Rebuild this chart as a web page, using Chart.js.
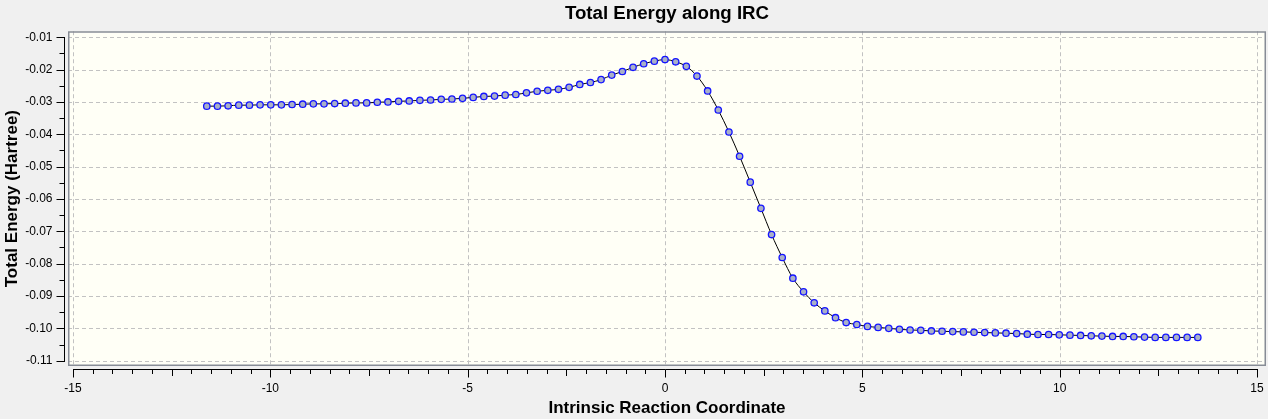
<!DOCTYPE html>
<html>
<head>
<meta charset="utf-8">
<title>Total Energy along IRC</title>
<script src="https://cdn.jsdelivr.net/npm/chart.js@4.4.1/dist/chart.umd.min.js"></script>
<style>
  html, body { margin: 0; padding: 0; background: #f0f0f0; }
  #wrap { position: relative; width: 1268px; height: 419px; }
</style>
</head>
<body>
<div id="wrap"><canvas id="irc"></canvas></div>
<script>
// ---- Data ----
const ircCoord = [
  -11.61, -11.34, -11.07, -10.80, -10.53, -10.26, -9.99, -9.72, -9.45, -9.18,
  -8.91, -8.64, -8.37, -8.10, -7.83, -7.56, -7.29, -7.02, -6.75, -6.48,
  -6.21, -5.94, -5.67, -5.40, -5.13, -4.86, -4.59, -4.32, -4.05, -3.78,
  -3.51, -3.24, -2.97, -2.70, -2.43, -2.16, -1.89, -1.62, -1.35, -1.08,
  -0.81, -0.54, -0.27, 0.00, 0.27, 0.54, 0.81, 1.08, 1.35, 1.62,
  1.89, 2.16, 2.43, 2.70, 2.97, 3.24, 3.51, 3.78, 4.05, 4.32,
  4.59, 4.86, 5.13, 5.40, 5.67, 5.94, 6.21, 6.48, 6.75, 7.02,
  7.29, 7.56, 7.83, 8.10, 8.37, 8.64, 8.91, 9.18, 9.45, 9.72,
  9.99, 10.26, 10.53, 10.80, 11.07, 11.34, 11.61, 11.88, 12.15, 12.42,
  12.69, 12.96, 13.23, 13.50
];

const totalEnergy = [
  -0.0313, -0.0313, -0.0312, -0.0310, -0.0310, -0.0309, -0.0309, -0.0309, -0.0308, -0.0307,
  -0.0306, -0.0306, -0.0305, -0.0304, -0.0303, -0.0303, -0.0301, -0.0300, -0.0298, -0.0297,
  -0.0295, -0.0294, -0.0292, -0.0291, -0.0289, -0.0286, -0.0283, -0.0282, -0.0279, -0.0277,
  -0.0272, -0.0267, -0.0264, -0.0261, -0.0255, -0.0246, -0.0240, -0.0231, -0.0217, -0.0206,
  -0.0193, -0.0182, -0.0174, -0.0169, -0.0176, -0.0190, -0.0220, -0.0266, -0.0325, -0.0393,
  -0.0468, -0.0548, -0.0629, -0.0710, -0.0781, -0.0845, -0.0887, -0.0921, -0.0946, -0.0967,
  -0.0982, -0.0988, -0.0994, -0.0997, -0.1000, -0.1003, -0.1005, -0.1006, -0.1008, -0.1009,
  -0.1010, -0.1011, -0.1012, -0.1013, -0.1014, -0.1015, -0.1016, -0.1018, -0.1019, -0.1019,
  -0.1020, -0.1021, -0.1022, -0.1023, -0.1024, -0.1025, -0.1025, -0.1026, -0.1027, -0.1028,
  -0.1028, -0.1028, -0.1028, -0.1028
];

const xTickValues = [-15, -10, -5, 0, 5, 10, 15];
const xTickLabels = ['-15', '-10', '-5', '0', '5', '10', '15'];
const yTickValues = [-0.11, -0.10, -0.09, -0.08, -0.07, -0.06, -0.05, -0.04, -0.03, -0.02, -0.01];
const yTickLabels = ['-0.11', '-0.10', '-0.09', '-0.08', '-0.07', '-0.06', '-0.05', '-0.04', '-0.03', '-0.02', '-0.01'];

const FONT = "'Liberation Sans', Arial, sans-serif";

// ---- Plot frame, dashed grid and the detached axis lines with minor ticks ----
const framePlugin = {
  id: 'frame',
  beforeDraw(chart) {
    const { ctx, chartArea: a, scales: { x, y } } = chart;
    ctx.save();

    ctx.fillStyle = '#fffff6';
    ctx.fillRect(a.left, a.top, a.right - a.left, a.bottom - a.top);

    // grid
    ctx.strokeStyle = '#c2c2c2';
    ctx.lineWidth = 1;
    ctx.setLineDash([4, 3]);
    ctx.beginPath();
    xTickValues.forEach(v => {
      const px = Math.round(x.getPixelForValue(v)) + 0.5;
      ctx.moveTo(px, a.top);
      ctx.lineTo(px, a.bottom);
    });
    yTickValues.forEach(v => {
      const py = Math.round(y.getPixelForValue(v)) + 0.5;
      ctx.moveTo(a.left, py);
      ctx.lineTo(a.right, py);
    });
    ctx.stroke();
    ctx.setLineDash([]);

    // box
    ctx.strokeStyle = '#878c96';
    ctx.lineWidth = 1.5;
    ctx.strokeRect(a.left + 0.75, a.top + 0.75, a.right - a.left - 1.5, a.bottom - a.top - 1.5);

    // x axis line + ticks
    ctx.strokeStyle = '#000';
    ctx.lineWidth = 1;
    const axY = a.bottom + 3.5;
    const x0 = xTickValues[0], x1 = xTickValues[xTickValues.length - 1];
    ctx.beginPath();
    ctx.moveTo(Math.round(x.getPixelForValue(x0)), axY);
    ctx.lineTo(Math.round(x.getPixelForValue(x1)) + 1, axY);
    for (let k = 0; k <= (x1 - x0) * 2; k++) {
      const v = x0 + k * 0.5;
      const len = v % 5 === 0 ? 8 : (v % 2.5 === 0 ? 6.5 : 4.5);
      const px = Math.round(x.getPixelForValue(v)) + 0.5;
      ctx.moveTo(px, axY);
      ctx.lineTo(px, axY + len);
    }
    // y axis line + ticks
    const axX = a.left - 3.5;
    const y0 = yTickValues[0], y1 = yTickValues[yTickValues.length - 1];
    ctx.moveTo(axX, Math.round(y.getPixelForValue(y1)));
    ctx.lineTo(axX, Math.round(y.getPixelForValue(y0)) + 1);
    const nMinor = Math.round((y1 - y0) / 0.005);
    for (let k = 0; k <= nMinor; k++) {
      const v = y0 + k * 0.005;
      const len = k % 2 === 0 ? 8 : 5;
      const py = Math.round(y.getPixelForValue(v)) + 0.5;
      ctx.moveTo(axX, py);
      ctx.lineTo(axX - len, py);
    }
    ctx.stroke();
    ctx.restore();
  }
};

new Chart(document.getElementById('irc'), {
  type: 'line',
  data: {
    datasets: [{
      data: ircCoord.map((x, i) => ({ x, y: totalEnergy[i] })),
      borderColor: '#000',
      borderWidth: 1,
      cubicInterpolationMode: 'monotone',
      fill: false,
      pointRadius: 3.2,
      pointBackgroundColor: '#a9b0c8',
      pointBorderColor: '#1414ff',
      pointBorderWidth: 1.3
    }]
  },
  options: {
    responsive: true,
    maintainAspectRatio: false,
    animation: false,
    layout: { autoPadding: false, padding: { left: 0, right: 2, top: 0, bottom: 0 } },
    plugins: {
      legend: { display: false },
      tooltip: { enabled: false },
      title: {
        display: true,
        fullSize: false,
        text: 'Total Energy along IRC',
        color: '#000',
        font: { family: FONT, size: 18.7, weight: 'bold' },
        padding: { top: 3, bottom: 5.8 }
      }
    },
    scales: {
      x: {
        type: 'linear',
        min: -15.127,
        max: 15.228,
        afterBuildTicks: s => { s.ticks = xTickValues.map(value => ({ value })); },
        afterFit: s => {
          s.height = 53;
          s.paddingLeft = 0;
          s.paddingRight = 0;
        },
        grid: { display: false, drawTicks: true, tickLength: 15.5 },
        border: { display: false },
        ticks: {
          padding: 0,
          autoSkip: false,
          maxRotation: 0,
          color: '#000',
          font: { family: FONT, size: 12 },
          callback: (v, i) => xTickLabels[i]
        },
        title: {
          display: true,
          text: 'Intrinsic Reaction Coordinate',
          color: '#000',
          font: { family: FONT, size: 17, weight: 'bold' },
          padding: { top: 0, bottom: 0 }
        }
      },
      y: {
        min: -0.111637,
        max: -0.008146,
        afterBuildTicks: s => { s.ticks = yTickValues.map(value => ({ value })); },
        afterFit: s => { s.width = 68; },
        grid: { display: false, drawTicks: true, tickLength: 15.5 },
        border: { display: false },
        ticks: {
          padding: 0,
          autoSkip: false,
          color: '#000',
          font: { family: FONT, size: 12 },
          callback: (v, i) => yTickLabels[i]
        },
        title: {
          display: true,
          text: 'Total Energy (Hartree)',
          color: '#000',
          font: { family: FONT, size: 17, weight: 'bold' },
          padding: { top: 2, bottom: 0 }
        }
      }
    }
  },
  plugins: [framePlugin]
});
</script>
</body>
</html>
